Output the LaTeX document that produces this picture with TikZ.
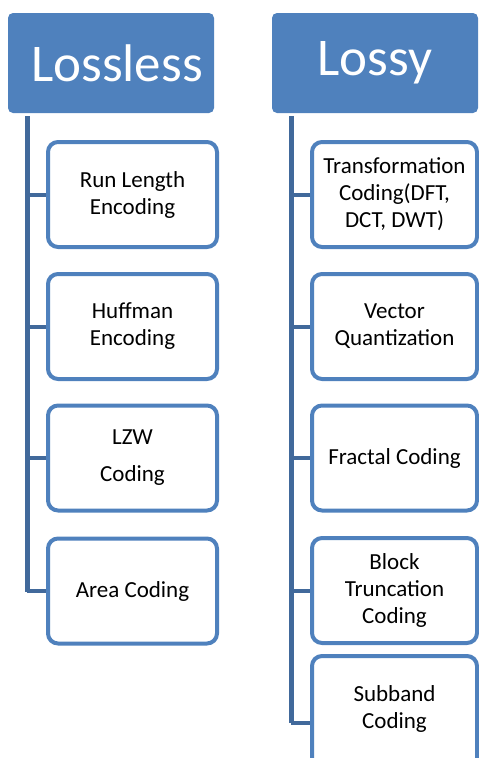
\documentclass[tikz,border=0pt]{standalone}
\usepackage{fontspec}
\setmainfont{Carlito}
\usepackage{tikz}
\definecolor{hdrblue}{HTML}{4F81BD}
\definecolor{trunkblue}{HTML}{41699B}
\tikzset{
  header/.style={fill=hdrblue,rounded corners=5pt,text=white,
    minimum width=206pt,minimum height=100pt,inner sep=0pt,
    font=\fontsize{53}{60}\selectfont},
  leaf/.style={draw=hdrblue,line width=4pt,fill=white,rounded corners=10pt,
    minimum height=105pt,inner sep=0pt,align=center,
    font=\fontsize{23}{27}\selectfont},
  trunk/.style={draw=trunkblue,line width=5pt},
  branch/.style={draw=trunkblue,line width=4pt}
}
\begin{document}
\begin{tikzpicture}[x=1pt,y=-1pt]
\useasboundingbox (0,0) rectangle (479,758);
% headers
\node[header] (lossless) at (111,63) {\hspace*{12pt}Lossless};
\node[header] (lossy) at (375,63) {Lossy};
% trunks
\coordinate (lt) at (27,116);
\coordinate (lb) at (27,592);
\coordinate (rt) at (291,116);
\coordinate (rb) at (291,723);
\draw[trunk] (lt) -- (lb);
\draw[trunk] (rt) -- (rb);
% lossless leaves
\foreach \n/\y/\t in {l1/194.5/{Run Length\\Encoding},
                      l2/326.5/{Huffman\\Encoding},
                      l3/458/{LZW\\[10pt]Coding},
                      l4/591/{Area Coding}}{
  \node[leaf,minimum width=169pt] (\n) at (132.5,\y) {\t};
  \draw[branch] (lt |- \n) -- (\n.west);
}
% lossy leaves
\foreach \n/\y/\t in {r1/194.5/{Transformation\\Coding(DFT,\\DCT, DWT)},
                      r2/326.5/{Vector\\Quantization},
                      r3/458/{Fractal Coding},
                      r4/590.5/{Block\\Truncation\\Coding}}{
  \node[leaf,minimum width=165pt] (\n) at (394.5,\y) {\t};
  \draw[branch] (rt |- \n) -- (\n.west);
}
\node[leaf,minimum width=165pt,minimum height=134pt] (r5) at (394.5,723) {Subband\\Coding\\[4pt]};
\draw[branch] (rt |- r5) -- (r5.west);
\end{tikzpicture}
\end{document}
